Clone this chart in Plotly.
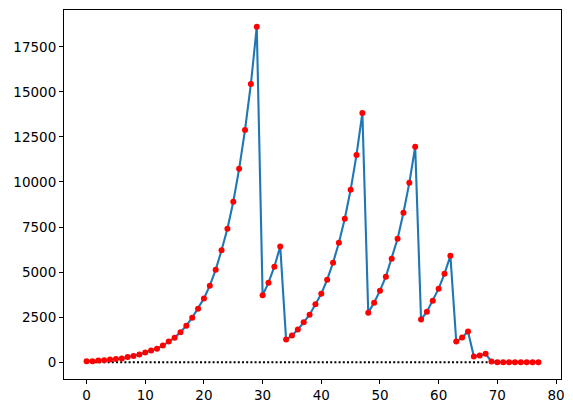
import plotly.graph_objects as go


# =====================================================
# DATA
# =====================================================

days = list(range(78))

cases = [
    50, 55, 95, 110, 150, 185, 205, 295, 350, 425,
    535, 645, 755, 925, 1145, 1365, 1660, 2030, 2470, 2970,
    3540, 4245, 5130, 6210, 7400, 8900, 10730, 12890, 15435, 18610,
    3710, 4413, 5300, 6424, 1257, 1478, 1811, 2215, 2640, 3212,
    3803, 4580, 5521, 6629, 7958, 9564, 11502, 13828, 2752, 3306,
    3971, 4746, 5743, 6850, 8290, 9952, 11950, 2364, 2807, 3417,
    4081, 4912, 5909, 1145, 1367, 1700, 315, 371, 470, 35,
    5, 5, 5, 5, 5, 5, 5, 5,
]

baseline = [0] * len(days)

y_ticks = [0, 2500, 5000, 7500, 10000, 12500, 15000, 17500]
x_ticks = [0, 10, 20, 30, 40, 50, 60, 70, 80]


# =====================================================
# FIGURE
# =====================================================

fig = go.Figure()

fig.add_trace(

    go.Scatter(

        x=days,

        y=baseline,

        mode="lines",

        line=dict(color="black", width=2, dash="2px,2.2px"),

        showlegend=False

    )

)

fig.add_trace(

    go.Scatter(

        x=days,

        y=cases,

        mode="lines",

        line=dict(color="#1f77b4", width=2.1),

        showlegend=False

    )

)

fig.add_trace(

    go.Scatter(

        x=days,

        y=cases,

        mode="markers",

        marker=dict(color="red", size=6),

        showlegend=False

    )

)

axis_style = dict(

    showline=True,

    linecolor="black",

    linewidth=1.1,

    mirror=True,

    showgrid=False,

    zeroline=False,

    ticks="outside",

    ticklen=4,

    tickwidth=1.1,

    tickcolor="black",

    tickfont=dict(family="DejaVu Sans", size=13.5, color="black")

)

fig.update_xaxes(

    range=[-3.85, 80.85],

    tickvals=x_ticks,

    **axis_style

)

fig.update_yaxes(

    range=[-930, 19540],

    tickvals=y_ticks,

    ticktext=[str(t) for t in y_ticks],

    **axis_style

)

# the page body keeps its default 8px margin, so the figure is sized to fit
fig.update_layout(

    width=565,

    height=405,

    margin=dict(l=56, r=12, t=2, b=34),

    plot_bgcolor="white",

    paper_bgcolor="white"

)

fig.write_html("out.html")
